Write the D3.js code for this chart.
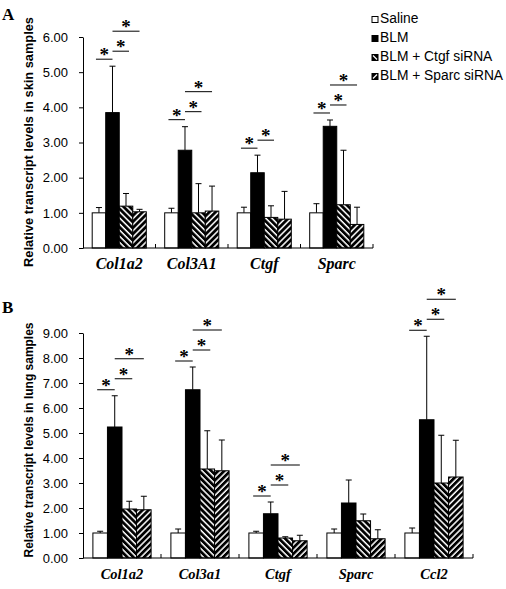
<!DOCTYPE html>
<html><head><meta charset="utf-8">
<script src="https://cdn.jsdelivr.net/npm/d3@7"></script>
<style>body{margin:0;background:#fff}svg{display:block}</style>
</head><body>
<script>
// ---------- data ----------
const series = ["Saline", "BLM", "BLM + Ctgf siRNA", "BLM + Sparc siRNA"];

const catsA = ["Col1a2", "Col3A1", "Ctgf", "Sparc"];
const salineA = [1.00, 1.00, 1.00, 1.00];
const salineErrA = [1.15, 1.13, 1.16, 1.26];
const blmA = [3.85, 2.78, 2.14, 3.46];
const blmErrA = [5.17, 3.45, 2.64, 3.64];
const ctgfA = [1.19, 1.00, 0.87, 1.23];
const ctgfErrA = [1.55, 1.83, 1.20, 2.78];
const sparcA = [1.03, 1.05, 0.82, 0.67];
const sparcErrA = [1.10, 1.76, 1.61, 1.16];
const sigA = [[0, 2, 3], [0, 2, 3], [0, 2], [0, 2, 3]]; // series compared against BLM
const ticksA = [0, 1, 2, 3, 4, 5, 6];

const catsB = ["Col1a2", "Col3a1", "Ctgf", "Sparc", "Ccl2"];
const salineB = [1.00, 1.00, 1.00, 1.00, 1.00];
const salineErrB = [1.07, 1.16, 1.07, 1.16, 1.20];
const blmB = [5.24, 6.73, 1.77, 2.20, 5.53];
const blmErrB = [6.49, 7.64, 2.24, 3.12, 8.87];
const ctgfB = [1.96, 3.56, 0.80, 1.49, 3.00];
const ctgfErrB = [2.27, 5.09, 0.85, 1.76, 4.91];
const sparcB = [1.93, 3.49, 0.69, 0.77, 3.24];
const sparcErrB = [2.47, 4.72, 0.91, 1.13, 4.71];
const sigB = [[0, 2, 3], [0, 2, 3], [0, 2, 3], [], [0, 2, 3]];
const ticksB = [0, 1, 2, 3, 4, 5, 6, 7, 8, 9];

const titleA = "Relative transcript levels in skin samples";
const titleB = "Relative transcript levels in lung samples";

// ---------- drawing ----------
const W = 506, H = 589;
const svg = d3.select("body").append("svg").attr("width", W).attr("height", H);
const SANS = "'Liberation Sans', Arial, sans-serif";
const SERIF = "'Liberation Serif', 'Times New Roman', serif";

const defs = svg.append("defs");
function stripe(id, angle) {
  const p = defs.append("pattern").attr("id", id)
    .attr("patternUnits", "userSpaceOnUse")
    .attr("width", 4.3).attr("height", 4.3)
    .attr("patternTransform", `rotate(${angle})`);
  p.append("rect").attr("width", 4.3).attr("height", 4.3).attr("fill", "#fff");
  p.append("rect").attr("width", 2.8).attr("height", 4.3).attr("fill", "#000");
}
stripe("pCtgf", -45);
stripe("pSparc", 45);
const fills = ["#fff", "#000", "url(#pCtgf)", "url(#pSparc)"];

function panel(opt) {
  const { cats, vals, errs, sig, ticks, ymax, x0, x1, y0, y1, title, titleLen, titleCy, catSize, catDy, offs, letter, letterY } = opt;
  const g = svg.append("g");
  const x = d3.scaleBand().domain(cats).range([x0, x1]).paddingInner(0).paddingOuter(0);
  const xs = d3.scaleBand().domain(d3.range(series.length)).range([0, x.bandwidth()]).paddingInner(0).paddingOuter(0.68);
  const y = d3.scaleLinear().domain([0, ymax]).range([y0, y1]);

  // y axis
  const ya = g.append("g").attr("transform", `translate(${x0},0)`)
    .call(d3.axisLeft(y).tickValues(ticks).tickFormat(d3.format(".2f")).tickSizeInner(4).tickSizeOuter(0).tickPadding(11));
  ya.select(".domain").attr("stroke", "#000").attr("stroke-width", 1);
  ya.selectAll(".tick line").attr("stroke", "#000");
  ya.selectAll(".tick text").attr("font-family", SANS).attr("font-size", 13).attr("fill", "#000");

  // bars
  cats.forEach((c, ci) => {
    series.forEach((s, si) => {
      const bx = x(c) + xs(si), bw = xs.bandwidth();
      const v = vals[si][ci], e = errs[si][ci];
      const cx = bx + bw / 2;
      g.append("line").attr("x1", cx).attr("x2", cx).attr("y1", y(v)).attr("y2", y(e)).attr("stroke", "#000");
      g.append("line").attr("x1", cx - 3).attr("x2", cx + 3).attr("y1", y(e)).attr("y2", y(e)).attr("stroke", "#000");
      g.append("rect").attr("x", bx).attr("y", y(v)).attr("width", bw).attr("height", y(0) - y(v))
        .attr("fill", fills[si]).attr("stroke", "#000").attr("stroke-width", 1);
    });
    // significance
    const ctr = i => x(c) + xs(i) + xs.bandwidth() / 2;
    const top = y(errs[1][ci]);
    sig[ci].forEach((other, k) => {
      let a, b;
      if (other === 0) { a = ctr(0) - 3; b = ctr(1); }
      else if (other === 2) { a = ctr(1); b = ctr(2) + 3; }
      else { a = ctr(1); b = ctr(3); }
      const ly = top - offs[k];
      g.append("line").attr("x1", a).attr("x2", b).attr("y1", ly).attr("y2", ly).attr("stroke", "#000");
      g.append("text").attr("x", (a + b) / 2).attr("y", ly + 2).attr("text-anchor", "middle")
        .attr("font-family", SERIF).attr("font-weight", "bold").attr("font-size", 19).text("*");
    });
  });

  // x axis
  g.append("line").attr("x1", x0).attr("x2", x1).attr("y1", y0).attr("y2", y0).attr("stroke", "#000");
  cats.forEach(c => {
    const bx = x(c) + x.step();
    g.append("line").attr("x1", bx).attr("x2", bx).attr("y1", y0).attr("y2", y0 - 4).attr("stroke", "#000");
    g.append("text").attr("x", x(c) + x.bandwidth() / 2).attr("y", y0 + catDy).attr("text-anchor", "middle")
      .attr("font-family", SERIF).attr("font-weight", "bold").attr("font-style", "italic")
      .attr("font-size", catSize).text(c);
  });

  // y title
  g.append("text").attr("transform", `translate(33,${titleCy}) rotate(-90)`).attr("text-anchor", "middle")
    .attr("font-family", SANS).attr("font-weight", "bold").attr("font-size", 13)
    .attr("textLength", titleLen).attr("lengthAdjust", "spacingAndGlyphs").text(title);

  // panel letter
  svg.append("text").attr("x", 2).attr("y", letterY).attr("font-family", SERIF).attr("font-weight", "bold")
    .attr("font-size", 17).text(letter);
}

panel({
  cats: catsA, vals: [salineA, blmA, ctgfA, sparcA], errs: [salineErrA, blmErrA, ctgfErrA, sparcErrA],
  sig: sigA, ticks: ticksA, ymax: 6, x0: 83, x1: 373, y0: 248, y1: 37,
  title: titleA, titleLen: 250, titleCy: 142, catSize: 16, catDy: 21, offs: [7, 15, 35], letter: "A", letterY: 20
});
panel({
  cats: catsB, vals: [salineB, blmB, ctgfB, sparcB], errs: [salineErrB, blmErrB, ctgfErrB, sparcErrB],
  sig: sigB, ticks: ticksB, ymax: 9, x0: 83, x1: 473, y0: 558, y1: 333,
  title: titleB, titleLen: 235, titleCy: 440, catSize: 14.5, catDy: 21, offs: [6, 17, 37], letter: "B", letterY: 313
});

// legend
const legend = svg.append("g").attr("font-family", SANS).attr("font-size", 13.8);
const legY = [23, 42, 61, 80];
series.forEach((s, i) => {
  const ly = legY[i];
  const sx = 372, sy = ly - 6.5, sz = 6;
  legend.append("rect").attr("x", sx).attr("y", sy).attr("width", sz).attr("height", sz)
    .attr("fill", i === 0 ? "#fff" : "#000").attr("stroke", "#000");
  if (i === 2) legend.append("line").attr("x1", sx + 1).attr("y1", sy + 1).attr("x2", sx + sz - 1).attr("y2", sy + sz - 1).attr("stroke", "#fff").attr("stroke-width", 1.3);
  if (i === 3) legend.append("line").attr("x1", sx + 1).attr("y1", sy + sz - 1).attr("x2", sx + sz - 1).attr("y2", sy + 1).attr("stroke", "#fff").attr("stroke-width", 1.3);
  legend.append("text").attr("x", 380).attr("y", ly).text(s);
});
</script>
</body></html>
